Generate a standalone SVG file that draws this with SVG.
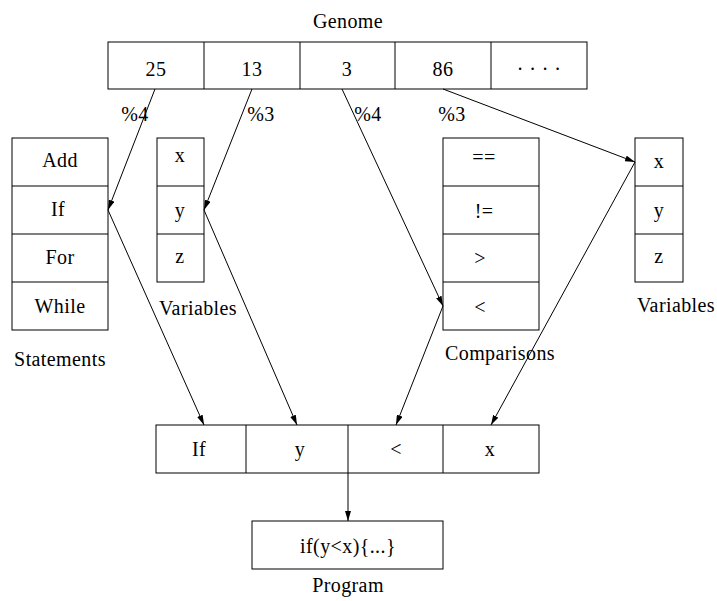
<svg xmlns="http://www.w3.org/2000/svg" width="717" height="601" viewBox="0 0 717 601">
  <style>
    .box { fill: #fff; stroke: #000; stroke-width: 1; }
    .div { stroke: #000; stroke-width: 1; }
    text { font-family: "Liberation Serif", "Times New Roman", serif; font-size: 20px; letter-spacing: 0.4px; fill: #000; text-anchor: middle; }
    .edge { stroke: #000; stroke-width: 1; fill: none; marker-end: url(#arrow); }
  </style>
  <defs>
    <marker id="arrow" viewBox="0 0 10 6" refX="10" refY="3" markerWidth="10" markerHeight="6" markerUnits="userSpaceOnUse" orient="auto">
      <path d="M0,0 L10,3 L0,6 Z" fill="#000"/>
    </marker>
  </defs>

  <g id="genome">
    <text x="348" y="28">Genome</text>
    <rect class="box" x="108" y="42" width="479" height="47"/>
    <line class="div" x1="204" y1="42" x2="204" y2="89"/>
    <line class="div" x1="300" y1="42" x2="300" y2="89"/>
    <line class="div" x1="395" y1="42" x2="395" y2="89"/>
    <line class="div" x1="491" y1="42" x2="491" y2="89"/>
    <text x="156" y="76">25</text>
    <text x="252" y="76">13</text>
    <text x="347" y="76">3</text>
    <text x="443" y="76">86</text>
    <text x="539" y="76">· · · ·</text>
  </g>

  <g id="statements">
    <rect class="box" x="12" y="138" width="96" height="192"/>
    <line class="div" x1="12" y1="186" x2="108" y2="186"/>
    <line class="div" x1="12" y1="234" x2="108" y2="234"/>
    <line class="div" x1="12" y1="282" x2="108" y2="282"/>
    <text x="60" y="167">Add</text>
    <text x="58" y="216">If</text>
    <text x="60" y="264">For</text>
    <text x="60" y="313">While</text>
    <text x="60" y="366">Statements</text>
  </g>

  <g id="variables-left">
    <rect class="box" x="157" y="138" width="47" height="144"/>
    <line class="div" x1="157" y1="186" x2="204" y2="186"/>
    <line class="div" x1="157" y1="234" x2="204" y2="234"/>
    <text x="180" y="162">x</text>
    <text x="180" y="217">y</text>
    <text x="180" y="263">z</text>
    <text x="198" y="315">Variables</text>
  </g>

  <g id="comparisons">
    <rect class="box" x="443" y="138" width="96" height="192"/>
    <line class="div" x1="443" y1="186" x2="539" y2="186"/>
    <line class="div" x1="443" y1="234" x2="539" y2="234"/>
    <line class="div" x1="443" y1="282" x2="539" y2="282"/>
    <text x="484" y="164">==</text>
    <text x="484" y="218">!=</text>
    <text x="480" y="265">&gt;</text>
    <text x="480" y="314">&lt;</text>
    <text x="500" y="360">Comparisons</text>
  </g>

  <g id="variables-right">
    <rect class="box" x="635" y="138" width="48" height="144"/>
    <line class="div" x1="635" y1="186" x2="683" y2="186"/>
    <line class="div" x1="635" y1="234" x2="683" y2="234"/>
    <text x="659" y="168">x</text>
    <text x="659" y="217">y</text>
    <text x="659" y="263">z</text>
    <text x="676" y="312">Variables</text>
  </g>

  <g id="expression">
    <rect class="box" x="156" y="425" width="383" height="48"/>
    <line class="div" x1="246" y1="425" x2="246" y2="473"/>
    <line class="div" x1="348" y1="425" x2="348" y2="473"/>
    <line class="div" x1="443" y1="425" x2="443" y2="473"/>
    <text x="199" y="456">If</text>
    <text x="300" y="456">y</text>
    <text x="396" y="456">&lt;</text>
    <text x="490" y="456">x</text>
  </g>

  <g id="program">
    <rect class="box" x="252" y="521" width="191" height="48"/>
    <text x="348" y="553">if(y&lt;x){...}</text>
    <text x="348" y="592">Program</text>
  </g>

  <g id="connectors">
    <path class="edge" d="M155,89 L108,210"/>
    <path class="edge" d="M252,89 L204,210"/>
    <path class="edge" d="M342,89 L443,306"/>
    <path class="edge" d="M443,89 L635,162"/>
    <path class="edge" d="M108,210 L204,425"/>
    <path class="edge" d="M204,210 L297,425"/>
    <path class="edge" d="M443,306 L396,425"/>
    <path class="edge" d="M635,162 L491,425"/>
    <path class="edge" d="M348,473 L348,521"/>
    <text x="135" y="121">%4</text>
    <text x="261" y="121">%3</text>
    <text x="368" y="121">%4</text>
    <text x="452" y="121">%3</text>
  </g>
</svg>
